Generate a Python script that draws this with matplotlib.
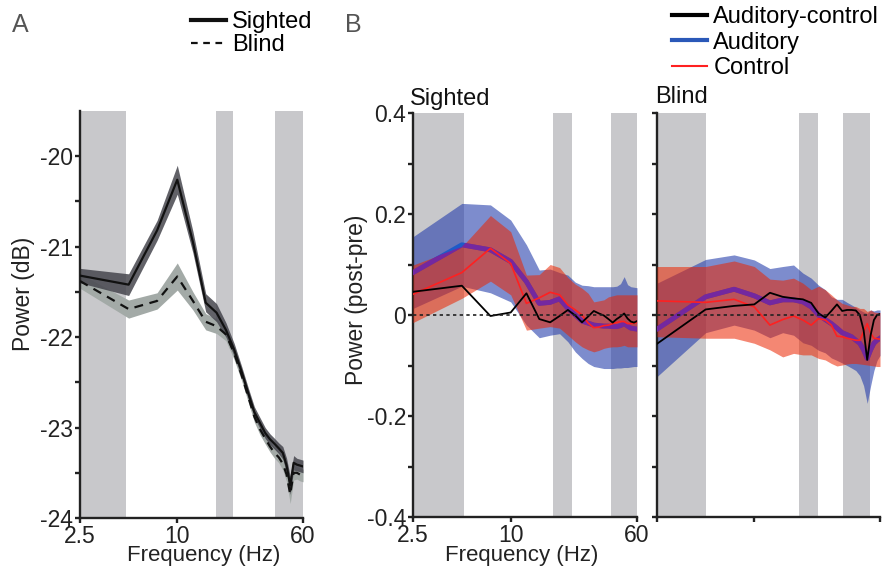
import numpy as np
import matplotlib
matplotlib.use("Agg")
import matplotlib.pyplot as plt
from matplotlib.ticker import NullLocator, FixedLocator
from matplotlib.lines import Line2D

plt.rcParams["font.family"] = ["Liberation Sans", "DejaVu Sans"]
plt.rcParams["axes.unicode_minus"] = False

# frequency grid (Hz)
freqs = [2.5, 5, 7.5, 10, 12.5, 15, 17.5, 20, 22.5, 25, 27.5, 30,
         32.5, 35, 37.5, 40, 42.5, 45, 47.5, 50, 52.5, 55, 57.5, 60]

# --- panel A: absolute power (dB)
a_sighted = [-21.32, -21.42, -20.82, -20.26, -20.95, -21.62, -21.73, -21.92,
             -22.14, -22.38, -22.62, -22.83, -22.95, -23.06, -23.13, -23.18,
             -23.23, -23.28, -23.42, -23.64, -23.39, -23.41, -23.42, -23.43]
a_sighted_err = [0.08, 0.12, 0.11, 0.16, 0.12, 0.1, 0.1, 0.08, 0.07, 0.06, 0.06,
                 0.06, 0.06, 0.06, 0.06, 0.06, 0.06, 0.07, 0.08, 0.1, 0.08,
                 0.07, 0.07, 0.07]
a_blind = [-21.38, -21.69, -21.6, -21.33, -21.6, -21.83, -21.88, -21.97,
           -22.18, -22.42, -22.66, -22.88, -23.02, -23.12, -23.21, -23.28,
           -23.33, -23.4, -23.52, -23.74, -23.5, -23.5, -23.52, -23.53]
a_blind_err = [0.08, 0.1, 0.09, 0.15, 0.1, 0.09, 0.08, 0.07, 0.07, 0.06, 0.06,
               0.06, 0.06, 0.06, 0.06, 0.06, 0.06, 0.07, 0.08, 0.1, 0.08,
               0.07, 0.07, 0.07]
a_bands = [(2.5, 4.8), (17.4, 22.1), (40.2, 60)]

# --- panel B: power change (post-pre), sighted
s_aud = [0.084, 0.139, 0.129, 0.106, 0.066, 0.023, 0.025, 0.032, 0.013, 0.0,
         -0.012, -0.016, -0.02, -0.021, -0.022, -0.022, -0.023, -0.023,
         -0.021, -0.017, -0.022, -0.026, -0.027, -0.028]
s_aud_hi = [0.155, 0.221, 0.218, 0.188, 0.139, 0.089, 0.091, 0.084, 0.079,
            0.065, 0.059, 0.058, 0.056, 0.056, 0.056, 0.056, 0.056, 0.057,
            0.062, 0.076, 0.06, 0.056, 0.055, 0.054]
s_aud_lo = [0.013, 0.057, 0.044, 0.026, -0.02, -0.045, -0.04, -0.037, -0.053,
            -0.073, -0.086, -0.096, -0.102, -0.104, -0.106, -0.106, -0.106,
            -0.105, -0.105, -0.104, -0.104, -0.103, -0.102, -0.102]
s_ctl = [0.041, 0.084, 0.132, 0.102, 0.023, 0.034, 0.045, 0.040, 0.02, 0.01,
         0.0, -0.016, -0.025, -0.024, -0.021, -0.02, -0.017, -0.015, -0.013,
         -0.013, -0.017, -0.017, -0.016, -0.015]
s_ctl_hi = [0.099, 0.135, 0.197, 0.165, 0.079, 0.08, 0.1, 0.094, 0.074, 0.061,
            0.053, 0.043, 0.026, 0.028, 0.03, 0.036, 0.038, 0.04, 0.04, 0.04,
            0.04, 0.04, 0.04, 0.04]
s_ctl_lo = [-0.015, 0.033, 0.067, 0.04, -0.03, -0.026, -0.023, -0.026, -0.04,
            -0.053, -0.063, -0.069, -0.073, -0.07, -0.066, -0.064, -0.063,
            -0.063, -0.062, -0.06, -0.063, -0.063, -0.063, -0.063]
s_diff = [0.046, 0.058, -0.002, 0.005, 0.043, -0.008, -0.0145, -0.002, 0.010,
          -0.001, -0.0145, -0.003, 0.008, 0.003, -0.001, -0.008, -0.015,
          -0.008, -0.003, 0.003, -0.007, -0.013, -0.015, -0.012]
s_bands = [(2.5, 5.15), (18.2, 23.9), (41.5, 60)]

# --- panel B: blind
b_aud = [-0.028, 0.036, 0.051, 0.038, 0.024, 0.03, 0.03, 0.026, 0.016, 0.0,
         -0.009, -0.017, -0.026, -0.035, -0.039, -0.043, -0.05, -0.056,
         -0.069, -0.086, -0.069, -0.056, -0.05, -0.046]
b_aud_hi = [0.063, 0.11, 0.119, 0.109, 0.092, 0.096, 0.099, 0.083, 0.073,
            0.059, 0.05, 0.036, 0.031, 0.031, 0.025, 0.02, 0.015, 0.01, 0.006,
            0.003, 0.01, 0.008, 0.01, 0.01]
b_aud_lo = [-0.122, -0.035, -0.02, -0.03, -0.045, -0.035, -0.04, -0.055,
            -0.06, -0.07, -0.075, -0.085, -0.09, -0.095, -0.1, -0.105, -0.11,
            -0.12, -0.14, -0.175, -0.14, -0.11, -0.09, -0.08]
b_ctl = [0.028, 0.025, 0.031, 0.016, -0.02, -0.009, -0.002, -0.01, -0.02,
         -0.007, -0.01, -0.02, -0.042, -0.043, -0.046, -0.048, -0.05, -0.05,
         -0.033, -0.017, -0.036, -0.046, -0.047, -0.048]
b_ctl_hi = [0.096, 0.096, 0.107, 0.096, 0.071, 0.069, 0.073, 0.063, 0.05,
            0.057, 0.05, 0.04, 0.03, 0.023, 0.02, 0.017, 0.017, 0.013, 0.013,
            0.007, 0.01, 0.006, 0.005, 0.005]
b_ctl_lo = [-0.043, -0.046, -0.046, -0.056, -0.069, -0.083, -0.076, -0.079,
            -0.079, -0.086, -0.089, -0.096, -0.101, -0.099, -0.097, -0.096,
            -0.096, -0.097, -0.098, -0.099, -0.1, -0.101, -0.102, -0.102]
b_diff = [-0.057, 0.011, 0.018, 0.021, 0.044, 0.036, 0.033, 0.031, 0.024,
          0.003, -0.005, 0.008, 0.021, 0.008, 0.01, 0.01, 0.009, 0.0, -0.03,
          -0.089, -0.04, -0.01, 0.0, 0.002]
b_bands = [(2.5, 5.0), (18.8, 24.7), (35.3, 52.2)]

GRAY = "#c8c8cb"
TXT = "#222222"
BLUE_BAND = "#263fac"
BLUE_LINE = "#1e5ac8"
PURPLE = "#7328a0"
RED_BAND = "#ec2400"
RED_LINE = "#ff2020"
FS = 16.5


def style_axis(ax):
    for s in ("top", "right"):
        ax.spines[s].set_visible(False)
    for s in ("left", "bottom"):
        ax.spines[s].set_linewidth(1.7)
        ax.spines[s].set_color(TXT)
    ax.set_xscale("log")
    ax.set_xlim(2.5, 60)
    ax.xaxis.set_major_locator(FixedLocator([2.5, 10, 60]))
    ax.xaxis.set_minor_locator(NullLocator())
    ax.tick_params(which="both", direction="out", width=1.7, color=TXT,
                   labelsize=FS, labelcolor=TXT, pad=1.5, length=3.5)
    ax.tick_params(axis="x", pad=1.2)


fig = plt.figure(figsize=(8.83, 5.67), dpi=100)
W, H = 883, 567
axA = fig.add_axes([80 / W, 1 - 518 / H, 223 / W, 407 / H])
axS = fig.add_axes([413 / W, 1 - 517 / H, 224 / W, 404 / H])
axB = fig.add_axes([657 / W, 1 - 517 / H, 223 / W, 404 / H])

# ---------------- panel A
for lo, hi in a_bands:
    axA.axvspan(lo, hi, color=GRAY, lw=0, zorder=0)
a_s = np.array(a_sighted)
a_b = np.array(a_blind)
axA.fill_between(freqs, a_b - a_blind_err, a_b + a_blind_err,
                 color="#a3aaa7", lw=0, zorder=1)
axA.fill_between(freqs, a_s - a_sighted_err, a_s + a_sighted_err,
                 color="#46464e", alpha=0.85, lw=0, zorder=2)
axA.plot(freqs, a_sighted, color="#111111", lw=1.6, zorder=3)
axA.plot(freqs, a_blind, color="#111111", lw=1.6, ls=(0, (4, 3)), zorder=3)
style_axis(axA)
axA.set_ylim(-24, -19.5)
axA.set_yticks([-24, -23, -22, -21, -20])
axA.set_yticklabels(["-24", "-23", "-22", "-21", "-20"])
axA.yaxis.set_minor_locator(FixedLocator([-23.5, -22.5, -21.5, -20.5]))
axA.set_xticklabels(["2.5", "10", "60"])
axA.set_ylabel("Power (dB)", fontsize=FS, color=TXT)
axA.yaxis.set_label_coords(-0.202, 0.55)
axA.set_xlabel("Frequency (Hz)", fontsize=16, color=TXT)
axA.xaxis.set_label_coords(0.556, -0.067)

fig.legend(handles=[Line2D([], [], color="#111111", lw=3),
                    Line2D([], [], color="#111111", lw=1.6, ls=(0, (3, 2.5)))],
           labels=["Sighted", "Blind"], loc="upper left",
           bbox_to_anchor=(191 / W, 1 - 11 / H), frameon=False,
           fontsize=17, borderpad=0, borderaxespad=0, handlelength=1.5,
           handletextpad=0.25, labelspacing=0.05)

fig.text(12 / W, 1 - 32 / H, "A", fontsize=18, color="#555555",
         va="baseline", ha="left")
fig.text(345 / W, 1 - 32 / H, "B", fontsize=18, color="#555555",
         va="baseline", ha="left")


# ---------------- panel B
def draw_b(ax, bands, aud, aud_lo, aud_hi, ctl, ctl_lo, ctl_hi, diff):
    for lo, hi in bands:
        ax.axvspan(lo, hi, color=GRAY, lw=0, zorder=0)
    ax.fill_between(freqs, aud_lo, aud_hi, color=BLUE_BAND, alpha=0.6,
                    lw=0, zorder=1)
    ax.plot(freqs, aud, color=BLUE_LINE, lw=3.5, zorder=2)
    red = ax.fill_between(freqs, ctl_lo, ctl_hi, color=RED_BAND, alpha=0.55,
                          lw=0, zorder=3)
    # auditory mean seen through the control band looks purple
    pl, = ax.plot(freqs, aud, color=PURPLE, lw=3.5, zorder=3.5)
    pl.set_clip_path(red.get_paths()[0], transform=red.get_transform())
    ax.plot(freqs, ctl, color=RED_LINE, lw=1.2, zorder=4)
    ax.plot(freqs, diff, color="#000000", lw=1.3, zorder=5)
    ax.axhline(0, color="#222222", lw=1.2, ls=(0, (2, 2)), zorder=6)
    style_axis(ax)
    ax.set_ylim(-0.4, 0.4)
    ax.set_yticks([-0.4, -0.2, 0, 0.2, 0.4])
    ax.yaxis.set_minor_locator(FixedLocator([-0.3, -0.1, 0.1, 0.3]))


draw_b(axS, s_bands, s_aud, s_aud_lo, s_aud_hi, s_ctl, s_ctl_lo, s_ctl_hi,
       s_diff)
axS.set_yticklabels(["-0.4", "-0.2", "0", "0.2", "0.4"])
axS.set_xticklabels(["2.5", "10", "60"])
axS.set_ylabel("Power (post-pre)", fontsize=FS, color=TXT)
axS.yaxis.set_label_coords(-0.201, 0.537)
axS.set_xlabel("Frequency (Hz)", fontsize=16, color=TXT)
axS.xaxis.set_label_coords(0.484, -0.069)
axS.text(-0.013, 1.02, "Sighted", transform=axS.transAxes, fontsize=17,
         color="#111111", va="baseline", ha="left")

draw_b(axB, b_bands, b_aud, b_aud_lo, b_aud_hi, b_ctl, b_ctl_lo, b_ctl_hi,
       b_diff)
axB.set_yticklabels([])
axB.set_xticklabels([])
axB.text(-0.009, 1.025, "Blind", transform=axB.transAxes, fontsize=17,
         color="#111111", va="baseline", ha="left")

fig.legend(handles=[Line2D([], [], color="#000000", lw=3),
                    Line2D([], [], color="#2a58b8", lw=3),
                    Line2D([], [], color=RED_LINE, lw=1.5)],
           labels=["Auditory-control", "Auditory", "Control"],
           loc="upper left", bbox_to_anchor=(672 / W, 1 - 6 / H),
           frameon=False, fontsize=17, borderpad=0, borderaxespad=0,
           handlelength=1.5, handletextpad=0.25, labelspacing=0.15)

fig.savefig("out.png", dpi=100)
